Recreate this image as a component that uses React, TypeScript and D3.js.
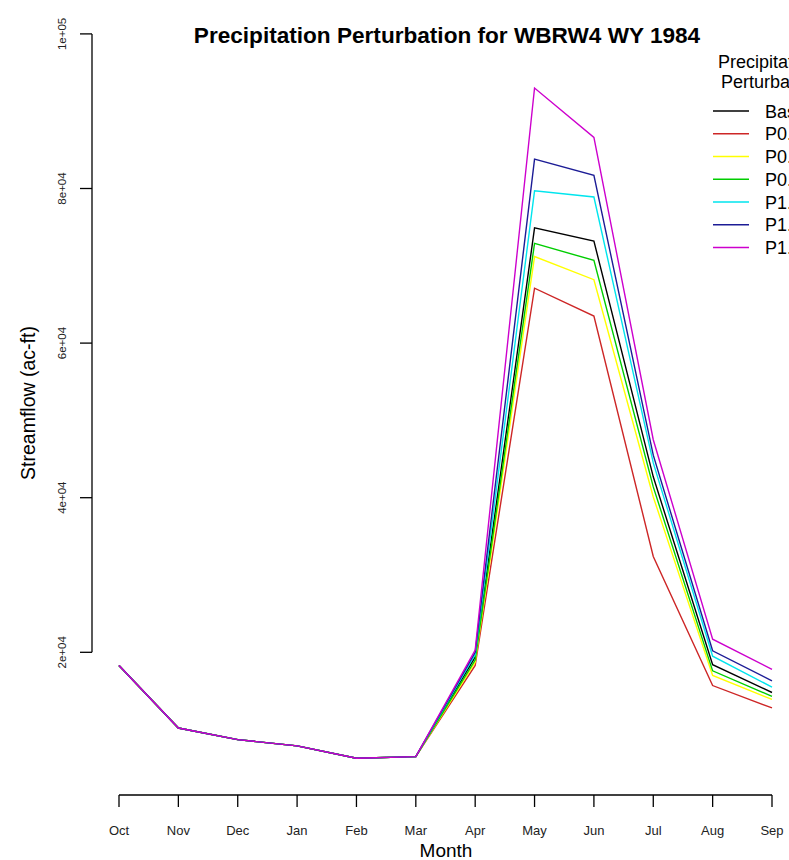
import React from "react";
import * as d3 from "d3";

// Water year months
const months = ["Oct", "Nov", "Dec", "Jan", "Feb", "Mar", "Apr", "May", "Jun", "Jul", "Aug", "Sep"];

// Monthly streamflow (ac-ft) per precipitation scenario
const base = [18300, 10200, 8700, 7900, 6300, 6500, 19400, 74900, 73200, 42700, 18400, 14800];
const p080 = [18300, 10200, 8700, 7900, 6300, 6500, 18300, 67100, 63500, 32400, 15700, 12800];
const p090 = [18300, 10200, 8700, 7900, 6300, 6500, 18700, 71200, 68200, 40100, 17000, 13900];
const p095 = [18300, 10200, 8700, 7900, 6300, 6500, 19000, 72900, 70700, 41400, 17600, 14300];
const p105 = [18300, 10200, 8700, 7900, 6300, 6500, 19700, 79700, 78900, 44500, 19500, 15500];
const p110 = [18300, 10200, 8700, 7900, 6300, 6500, 20000, 83800, 81700, 45500, 20200, 16300];
const p120 = [18300, 10200, 8700, 7900, 6300, 6500, 20300, 93000, 86600, 47500, 21700, 17800];

const seriesNames = ["Base", "P0.8", "P0.9", "P0.95", "P1.05", "P1.1", "P1.2"];
const seriesValues = [base, p080, p090, p095, p105, p110, p120];
const seriesColors = ["#000000", "#CD2626", "#FFFF00", "#00CD00", "#00E5EE", "#1C1C96", "#CD00CD"];

const yTicks = [20000, 40000, 60000, 80000, 100000];

const W = 789;
const H = 860;

// R-style scientific labels, e.g. 2e+04
const sci = (v: number) => {
  const [m, e] = v.toExponential(0).split("e");
  const sign = e[0];
  const digits = e.slice(1).padStart(2, "0");
  return `${m}e${sign}${digits}`;
};

export default function App() {
  const x = d3.scalePoint<string>().domain(months).range([119, 772]);
  const y = d3.scaleLinear().domain([0, 100000]).range([806.9, 33.9]);

  const line = d3
    .line<number>()
    .x((_, i) => x(months[i]) as number)
    .y((d) => y(d));

  const font = "'Liberation Sans', Arial, sans-serif";
  const axisY = 795;
  const axisX = 92;
  const tickLen = 12;

  return (
    <svg
      width={W}
      height={H}
      style={{ position: "absolute", left: 0, top: 0, background: "#fff" }}
      fontFamily={font}
    >
      <rect x={0} y={0} width={W} height={H} fill="#fff" />

      {/* Title */}
      <text x={447} y={43} textAnchor="middle" fontSize={22.6} fontWeight="bold" fill="#000">
        Precipitation Perturbation for WBRW4 WY 1984
      </text>

      {/* Series lines */}
      {seriesValues.map((vals, i) => (
        <path key={seriesNames[i]} d={line(vals) ?? ""} fill="none" stroke={seriesColors[i]} strokeWidth={1.4} />
      ))}

      {/* X axis */}
      <g stroke="#000" strokeWidth={1.3}>
        <line x1={x(months[0])} x2={x(months[months.length - 1])} y1={axisY} y2={axisY} />
        {months.map((m) => (
          <line key={m} x1={x(m)} x2={x(m)} y1={axisY} y2={axisY + tickLen} />
        ))}
      </g>
      {months.map((m) => (
        <text key={m} x={x(m)} y={835} textAnchor="middle" fontSize={13} fill="#222">
          {m}
        </text>
      ))}
      <text x={446} y={857} textAnchor="middle" fontSize={19} fill="#000">
        Month
      </text>

      {/* Y axis */}
      <g stroke="#000" strokeWidth={1.3}>
        <line x1={axisX} x2={axisX} y1={y(yTicks[0])} y2={y(yTicks[yTicks.length - 1])} />
        {yTicks.map((t) => (
          <line key={t} x1={axisX - tickLen} x2={axisX} y1={y(t)} y2={y(t)} />
        ))}
      </g>
      {yTicks.map((t) => (
        <text
          key={t}
          transform={`translate(66,${y(t)}) rotate(-90)`}
          textAnchor="middle"
          fontSize={11.5}
          fill="#222"
        >
          {sci(t)}
        </text>
      ))}
      <text transform="translate(35,403) rotate(-90)" textAnchor="middle" fontSize={19.5} fill="#000">
        Streamflow (ac-ft)
      </text>

      {/* Legend */}
      <text x={718} y={68} fontSize={18} fill="#000">
        Precipitation
      </text>
      <text x={721} y={88} fontSize={18} fill="#000">
        Perturbation
      </text>
      {seriesNames.map((name, i) => {
        const ly = 111 + i * 22.75;
        return (
          <g key={name}>
            <line x1={713} x2={749} y1={ly} y2={ly} stroke={seriesColors[i]} strokeWidth={1.4} />
            <text x={765} y={ly + 6.5} fontSize={18} fill="#000">
              {name}
            </text>
          </g>
        );
      })}
    </svg>
  );
}
